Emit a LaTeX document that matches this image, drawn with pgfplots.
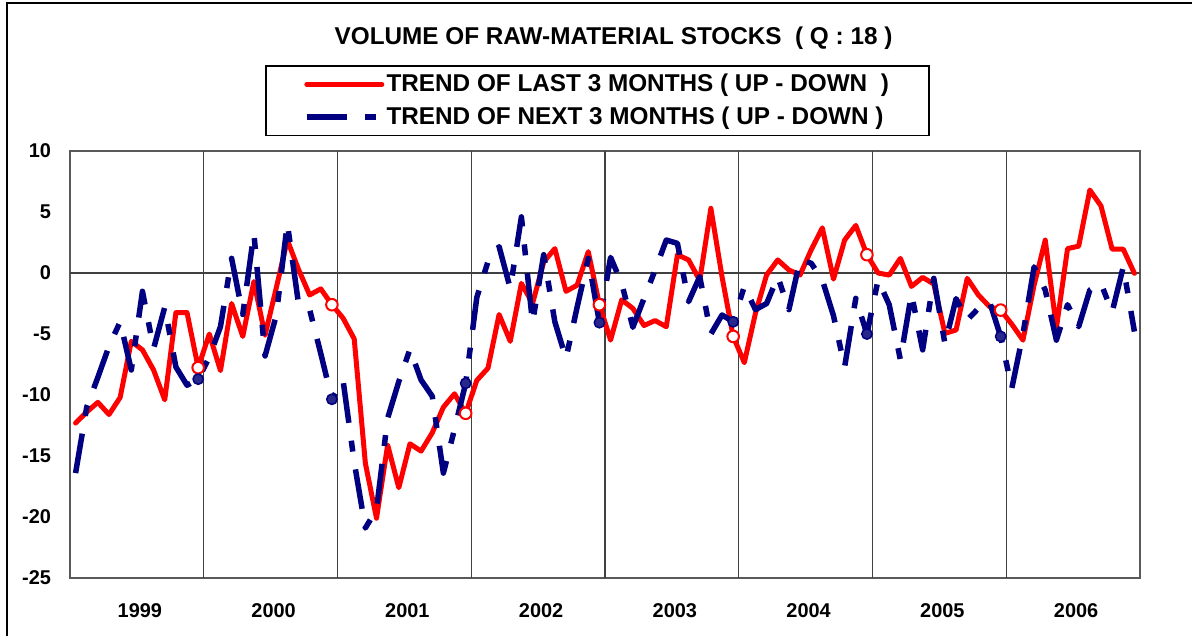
\documentclass[border=0pt]{standalone}
\usepackage{pgfplots}
\usepackage{pgfplotstable}
\pgfplotsset{compat=1.18}
\usepackage{fontspec}
\setmainfont{Liberation Sans}
\definecolor{navy}{RGB}{0,0,128}
\definecolor{navyfill}{RGB}{40,40,140}

% month index, trend of last 3 months, trend of next 3 months
\pgfplotstableread{
m last next
1 -12.3 -16.4
2 -11.4 -11.0
3 -10.6 -8.55
4 -11.6 -6.0
5 -10.2 -4.0
6 -5.6 -7.95
7 -6.3 -1.5
8 -7.95 -6.2
9 -10.4 -2.8
10 -3.25 -7.7
11 -3.25 -9.2
12 -7.76 -8.7
13 -5.0 -6.9
14 -8.0 -4.4
15 -2.5 1.2
16 -5.2 -3.4
17 -0.7 3.25
18 -5.1 -6.8
19 -1.25 -3.5
20 2.7 4.07
21 0.3 -2.5
22 -1.8 -3.0
23 -1.3 -6.6
24 -2.6 -10.35
25 -3.7 -8.8
26 -5.4 -15.5
27 -15.6 -20.9
28 -20.1 -19.4
29 -14.1 -11.9
30 -17.6 -8.9
31 -14.0 -6.25
32 -14.6 -8.77
33 -13.1 -10.1
34 -11.0 -16.4
35 -9.9 -12.8
36 -11.5 -9.04
37 -8.8 -2.0
38 -7.8 0.93
39 -3.4 2.16
40 -5.6 -1.26
41 -0.85 4.6
42 -2.5 -4.07
43 0.9 1.5
44 2.0 -4.0
45 -1.5 -7.0
46 -1.0 -2.8
47 1.75 1.2
48 -2.6 -4.07
49 -5.5 1.28
50 -2.2 -0.85
51 -2.9 -4.45
52 -4.3 -2.08
53 -3.9 0.25
54 -4.4 2.7
55 1.5 2.43
56 1.07 -2.35
57 -0.6 -0.3
58 5.3 -5.0
59 -0.3 -3.44
60 -5.2 -4.0
61 -7.35 -1.1
62 -3.3 -3.0
63 -0.16 -2.5
64 1.07 -0.3
65 0.25 -3.0
66 -0.16 1.07
67 1.9 0.8
68 3.7 -0.57
69 -0.5 -3.5
70 2.7 -7.7
71 3.9 -2.08
72 1.5 -5.0
73 0.0 -0.57
74 -0.17 -2.6
75 1.2 -7.1
76 -1.1 -1.7
77 -0.36 -6.3
78 -0.9 -0.44
79 -4.95 -5.8
80 -4.67 -2.1
81 -0.44 -3.85
82 -1.8 -2.9
83 -2.76 -2.35
84 -3.04 -5.2
85 -4.2 -9.45
86 -5.5 -5.0
87 -1.0 0.5
88 2.7 -1.4
89 -4.5 -5.5
90 2.0 -2.6
91 2.2 -4.4
92 6.8 -1.4
93 5.5 -0.85
94 1.95 -3.2
95 1.95 0.5
96 -0.03 -4.8
}\stocks

\begin{document}
\begin{tikzpicture}
\useasboundingbox (-35bp,-29bp) rectangle (561bp,289bp);
\draw[line width=0.75bp] (-31.5bp,-40bp) rectangle (575bp,287.5bp);
\begin{axis}[
    scale only axis,
    width=535bp, height=213.5bp,
    at={(0,0)}, anchor=south west,
    xmin=0.5, xmax=96.5,
    ymin=-25, ymax=10,
    ytick={-25,-20,...,10},
    xtick={6.5,18.5,...,90.5},
    xticklabels={1999,2000,2001,2002,2003,2004,2005,2006},
    extra x ticks={12.5,24.5,36.5,48.5,60.5,72.5,84.5},
    extra x tick labels={},
    extra x tick style={grid=major},
    extra y ticks={0},
    extra y tick labels={},
    extra y tick style={grid=major},
    grid style={black!75, line width=0.6bp},
    major tick length=0pt,
    axis line style={gray!70!black, line width=1bp},
    tick label style={font=\bfseries\fontsize{10}{12}\selectfont},
    /pgf/number format/assume math mode=true,
    yticklabel style={xshift=-6bp},
    xticklabel style={yshift=-9.5bp, xshift=1.5bp},
    clip=false,
    legend style={at={(0.493,1)}, anchor=south, yshift=7.5bp,
        draw=black, line width=0.75bp,
        font=\bfseries\fontsize{12.2}{14}\selectfont,
        inner xsep=19bp, inner ysep=2bp, row sep=2bp,
        nodes={inner xsep=1bp},
        cells={anchor=west}},
    legend image code/.code={\draw[#1] (0bp,0bp) -- (37.5bp,0bp);},
]
\addplot[red, line width=2.5bp, line join=round, line cap=round,
    mark=*, mark indices={12,24,36,48,60,72,84}, mark size=2.9bp,
    mark options={solid, fill=white, draw=red, line width=1bp}]
    table[x=m, y=last] {\stocks};
\addlegendentry{TREND OF LAST 3 MONTHS ( UP - DOWN \ )}
\addplot[navy, line width=2.75bp, line join=round,
    dash pattern=on 20bp off 9bp on 5.5bp off 9bp,
    mark=*, mark indices={12,24,36,48,60,72,84}, mark size=2.6bp,
    mark options={solid, fill=navyfill, draw=navy, line width=0.75bp}]
    table[x=m, y=next] {\stocks};
\addlegendentry{TREND OF NEXT 3 MONTHS ( UP - DOWN )}
\node[font=\bfseries\fontsize{12.2}{14}\selectfont] at (rel axis cs:0.508,1) [yshift=56.5bp] {VOLUME OF RAW-MATERIAL STOCKS \ ( Q : 18 )};
\end{axis}
\end{tikzpicture}
\end{document}
